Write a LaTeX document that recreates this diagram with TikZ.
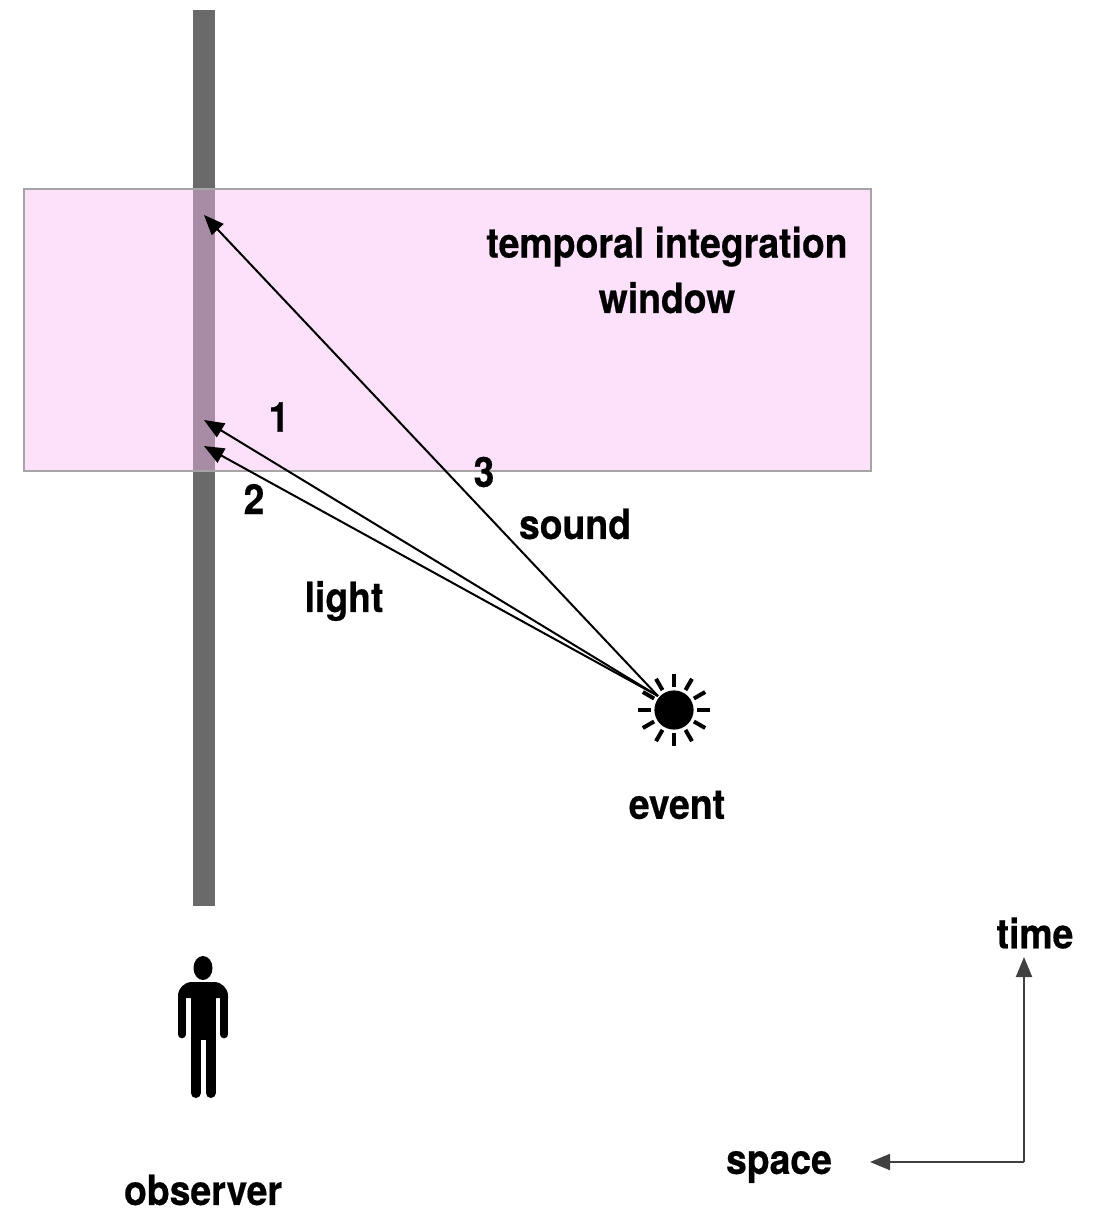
\documentclass[tikz,border=0pt]{standalone}
\usepackage{fontspec}
\setmainfont{TeX Gyre Heros}[BoldFeatures={FakeBold=0.5}]
\usetikzlibrary{arrows.meta}
\tikzset{
    caption/.style={font=\fontsize{29.5}{34}\selectfont\bfseries, inner sep=0pt, align=center, xscale=0.9},
    signal/.style={->,>={Triangle[length=0.5cm,width=0.4cm]}, black, line width=0.05cm},
    axis/.style={->,>={Triangle[length=0.5cm,width=0.4cm]}, draw={rgb,255:red,64;green,64;blue,64}, fill={rgb,255:red,64;green,64;blue,64}, line width=0.05cm}
}
\definecolor{barcol}{RGB}{106,106,106}
\definecolor{windowcol}{RGB}{250,183,243}
\definecolor{windowline}{RGB}{165,165,165}
\begin{document}
\begin{tikzpicture}[x=0.025cm, y=-0.025cm]
    \useasboundingbox (0,0) rectangle (1102,1210);

    % Beobachter-Linie
    \fill[barcol] (193,10) rectangle (215,906);

    % Zeitfenster
    \fill[windowcol, fill opacity=0.43] (24,189) rectangle (871,471);
    \draw[windowline, line width=0.05cm] (24,189) rectangle (871,471);

    % Ereignis
    \def\sunx{674}
    \def\suny{710}
    \node[circle, fill=black, minimum size=0.98cm, inner sep=0pt] (sun) at (\sunx,\suny) {};
    \foreach \ang in {0,30,...,330} {
        \draw[black, line width=0.1cm, shift={(\sunx,\suny)}] (\ang:23) -- (\ang:36);
    }
    \coordinate (source) at (658,696);

    % Ankunftspunkte
    \coordinate (hitsound) at (204,215);
    \coordinate (hitfirst) at (204,420);
    \coordinate (hitsecond) at (204,446);

    % Pfeile
    \draw[signal] (source) -- (hitsound);
    \draw[signal] (source) -- (hitfirst);
    \draw[signal] (source) -- (hitsecond);

    % Person
    \fill[black] (203,968) ellipse (9.5 and 12);
    \fill[black] (178,998) [rounded corners=0.35cm] -- (178,982) -- (228,982) [sharp corners] -- (228,998) -- cycle;
    \fill[black] (190.7,990) rectangle (215.7,1040);
    \draw[black, line width=0.19cm, line cap=round] (181.8,995) -- (181.8,1034.5);
    \draw[black, line width=0.19cm, line cap=round] (224.2,995) -- (224.2,1034.5);
    \draw[black, line width=0.25cm, line cap=round] (195.7,1030) -- (195.7,1093);
    \draw[black, line width=0.25cm, line cap=round] (210.7,1030) -- (210.7,1093);

    % Achsen
    \coordinate (corner) at (1024,1162);
    \coordinate (timetip) at (1024,957);
    \coordinate (spacetip) at (870,1162);
    \draw[axis] (corner) -- (timetip);
    \draw[axis] (corner) -- (spacetip);

    % Beschriftung
    \node[caption] (windowlabel) at (667,270) {temporal integration\\[0.19cm]window};
    \node[caption] (one) at (279,417) {1};
    \node[caption] (two) at (254,499) {2};
    \node[caption] (three) at (484,472) {3};
    \node[caption] (sound) at (575,524) {sound};
    \node[caption] (light) at (344,601) {light};
    \node[caption] (event) at (677,805) {event};
    \node[caption] (observer) at (203,1190) {observer};
    \node[caption] (time) at (1035,933) {time};
    \node[caption] (space) at (779,1167) {space};
\end{tikzpicture}
\end{document}
